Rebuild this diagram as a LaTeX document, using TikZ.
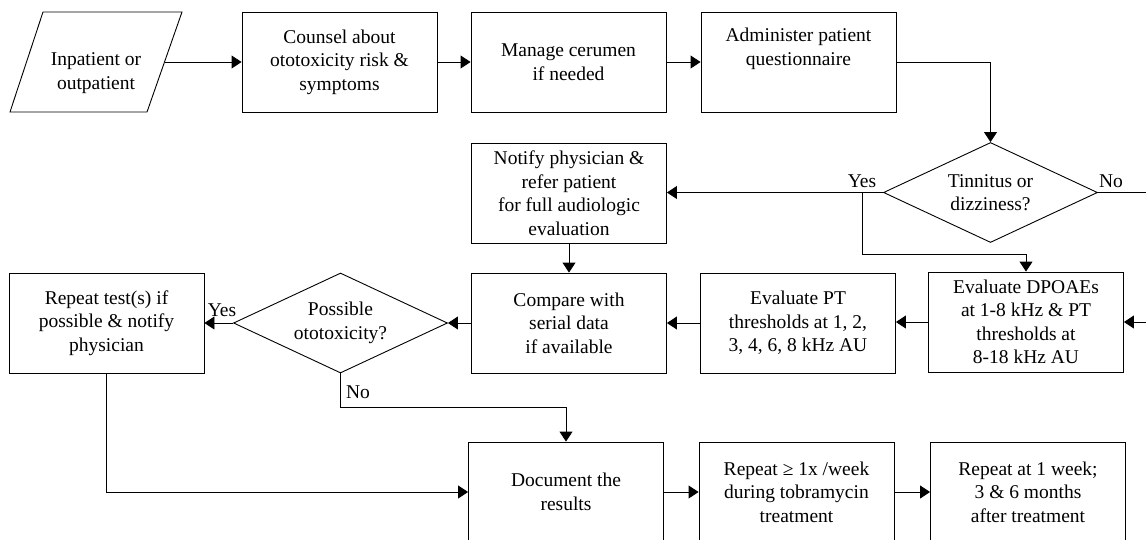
\documentclass[tikz,border=0pt]{standalone}
\usepackage{fontspec}
\setmainfont{Liberation Serif}
\usetikzlibrary{arrows.meta,shapes.geometric}
\tikzset{
  box/.style={draw, line width=0.9pt, minimum width=195pt, minimum height=100pt, inner sep=0pt, align=center, font=\fontsize{19.5}{23.5}\selectfont},
  dia/.style={draw, line width=0.9pt, diamond, shape aspect=2.14, minimum width=214pt, minimum height=100pt, inner sep=0pt, align=center, font=\fontsize{19.5}{23.5}\selectfont},
  txt/.style={inner sep=0pt, align=center, font=\fontsize{19.5}{23.5}\selectfont},
  conn/.style={line width=0.9pt},
  arr/.style={line width=0.9pt, -{Triangle[length=10pt,width=13pt]}}
}
\begin{document}
\begin{tikzpicture}[x=1pt,y=-1pt]
\useasboundingbox (0,0) rectangle (1146,539);
% input parallelogram
\draw[conn] (43,12) -- (182,12) -- (147,112) -- (10,112) -- cycle;
\node[txt] (in) at (96,73) {Inpatient or\\outpatient};
\coordinate (inR) at (164.5,62);
% top row
\node[box] (counsel) at (339.5,62) {Counsel about\\ototoxicity risk \&\\symptoms};
\node[box] (manage) at (568.5,62) {Manage cerumen\\if needed};
\node[box] (admin) at (798.5,62) {Administer patient\\questionnaire\\\strut};
% tinnitus decision
\node[dia] (tin) at (990.5,192.5) {Tinnitus or\\dizziness?};
\node[box] (notify) at (569,193) {Notify physician \&\\refer patient\\for full audiologic\\evaluation};
% middle row
\node[box] (dp) at (1026,322) {Evaluate DPOAEs\\at 1-8 kHz \& PT\\thresholds at\\8-18 kHz AU};
\node[box] (pt) at (798,323) {Evaluate PT\\thresholds at 1, 2,\\3, 4, 6, 8 kHz AU};
\node[box] (cmp) at (569,323) {Compare with\\serial data\\if available};
\node[dia] (pos) at (340.5,323) {Possible\\ototoxicity?};
\node[box] (rep) at (106.5,323) {Repeat test(s) if\\possible \& notify\\physician};
% bottom row
\node[box] (doc) at (566,492) {Document the\\results};
\node[box] (rw) at (796.5,492) {Repeat ≥ 1x /week\\during tobramycin\\treatment};
\node[box] (ra) at (1028,492) {Repeat at 1 week;\\3 \& 6 months\\after treatment};
% free ends on the right edge
\coordinate (noEnd) at (1146,192.5);
\coordinate (dpIn) at (1146,322);
\coordinate (yb) at (862,192.5);
% connectors
\draw[arr] (inR) -- (counsel.west |- inR);
\draw[arr] (counsel.east) -- (manage.west);
\draw[arr] (manage.east) -- (admin.west);
\draw[arr] (admin.east) -| (tin.north);
\draw[arr] (tin.west) -- (tin.west -| notify.east);
\draw[conn] (tin.east) -- (noEnd);
\draw[arr] (yb) -- ++(0,62) -| (dp.north);
\draw[arr] (dpIn) -- (dp.east);
\draw[arr] (notify.south) -- (cmp.north);
\draw[arr] (dp.west) -- (dp.west -| pt.east);
\draw[arr] (pt.west) -- (cmp.east);
\draw[arr] (cmp.west) -- (pos.east);
\draw[arr] (pos.west) -- (rep.east);
\draw[arr] (pos.south) -- ++(0,34) -| (doc.north);
\draw[arr] (rep.south) |- (doc.west);
\draw[arr] (doc.east) -- (rw.west);
\draw[arr] (rw.east) -- (ra.west);
% labels
\node[txt] (yes1) at (862,181) {Yes};
\node[txt] (no1) at (1111,181) {No};
\node[txt] (yes2) at (222,310) {Yes};
\node[txt] (no2) at (358,392) {No};
\end{tikzpicture}
\end{document}
